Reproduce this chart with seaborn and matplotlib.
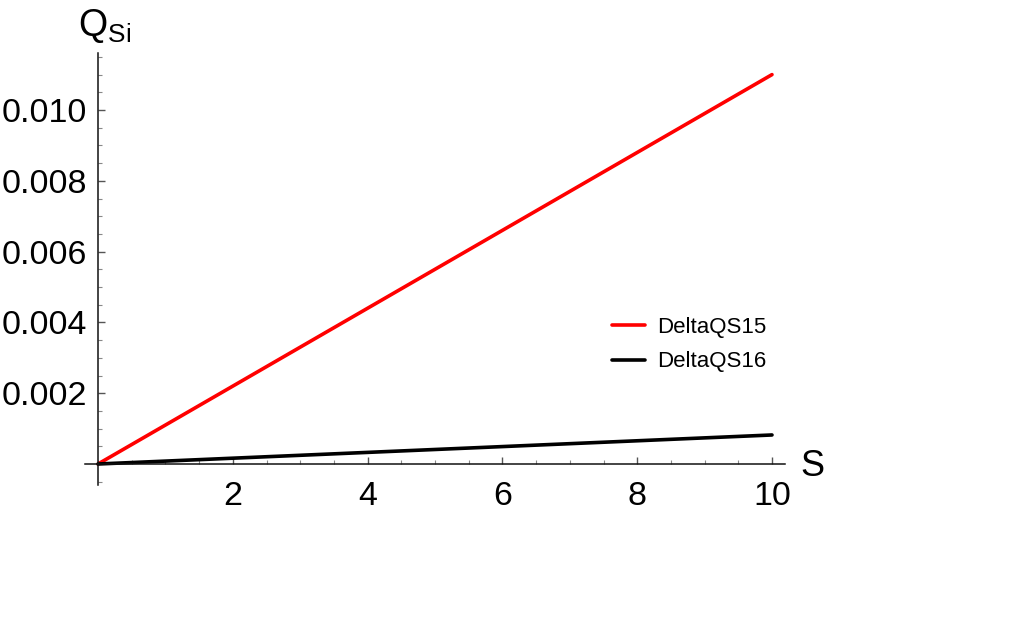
import numpy as np
import pandas as pd
import seaborn as sns
import matplotlib.pyplot as plt
from matplotlib.ticker import MultipleLocator

# values
s_vals = [0, 10]
delta15 = [0.0, 0.0110]
delta16 = [0.0, 0.00082]
series_names = ["DeltaQS15", "DeltaQS16"]
x_ticks = [2, 4, 6, 8, 10]
y_ticks = [0.002, 0.004, 0.006, 0.008, 0.010]

df = pd.DataFrame({
    "S": s_vals * 2,
    "Q": delta15 + delta16,
    "series": [series_names[0]] * len(s_vals) + [series_names[1]] * len(s_vals),
})

sns.set_style("white")
plt.rcParams["font.family"] = ["Liberation Sans", "DejaVu Sans"]
plt.rcParams["mathtext.fontset"] = "custom"
plt.rcParams["mathtext.rm"] = "Liberation Sans"
plt.rcParams["text.color"] = "black"
plt.rcParams["xtick.color"] = "black"
plt.rcParams["ytick.color"] = "black"

fig = plt.figure(figsize=(10.29, 6.40), dpi=100)
ax = fig.add_axes([85 / 1029, 1 - 485 / 640, 700 / 1029, 432 / 640])

sns.lineplot(data=df, x="S", y="Q", hue="series", palette=["#ff0000", "#000000"],
             linewidth=2.6, ax=ax, legend=True)

ax.set_xlim(-13 / 67.4, 10 + 13 / 67.4)
ax.set_ylim(-21 / 35.4 * 0.001, 411 / 35.4 * 0.001)

# axes crossing at the origin, Mathematica style
for side in ["top", "right"]:
    ax.spines[side].set_visible(False)
ax.spines["left"].set_position(("data", 0))
ax.spines["bottom"].set_position(("data", 0))
for side in ["left", "bottom"]:
    ax.spines[side].set_color("#111111")
    ax.spines[side].set_linewidth(1.1)

ax.set_xticks(x_ticks)
ax.set_xticklabels([str(t) for t in x_ticks])
ax.set_yticks(y_ticks)
ax.set_yticklabels([f"{t:.3f}" for t in y_ticks])
ax.xaxis.set_minor_locator(MultipleLocator(0.5))
ax.yaxis.set_minor_locator(MultipleLocator(0.0005))
ax.tick_params(axis="both", which="both", bottom=True, left=True,
               top=False, right=False)
ax.tick_params(axis="both", which="major", direction="in", length=5, width=1,
               color="#555555", labelcolor="black", labelsize=24.5, pad=8)
ax.tick_params(axis="x", which="major", pad=12)
ax.tick_params(axis="both", which="minor", direction="in", length=3, width=0.8,
               color="#888888")
ax.set_xlabel("")
ax.set_ylabel("")

fig.text(105 / 1029, 1 - 26 / 640, r"$\mathregular{Q_{Si}}$", fontsize=27,
         ha="center", va="center", color="black")
fig.text(812 / 1029, 1 - 466 / 640, "S", fontsize=26, ha="center", va="center",
         color="black")

leg = ax.legend(loc="upper left", bbox_to_anchor=(592 / 1029, 1 - 297 / 640),
                bbox_transform=fig.transFigure, frameon=False, fontsize=16,
                handlelength=1.5, handletextpad=0.55, labelspacing=0.6)
for txt in leg.get_texts():
    txt.set_color("black")

fig.savefig("out.png", dpi=100)
